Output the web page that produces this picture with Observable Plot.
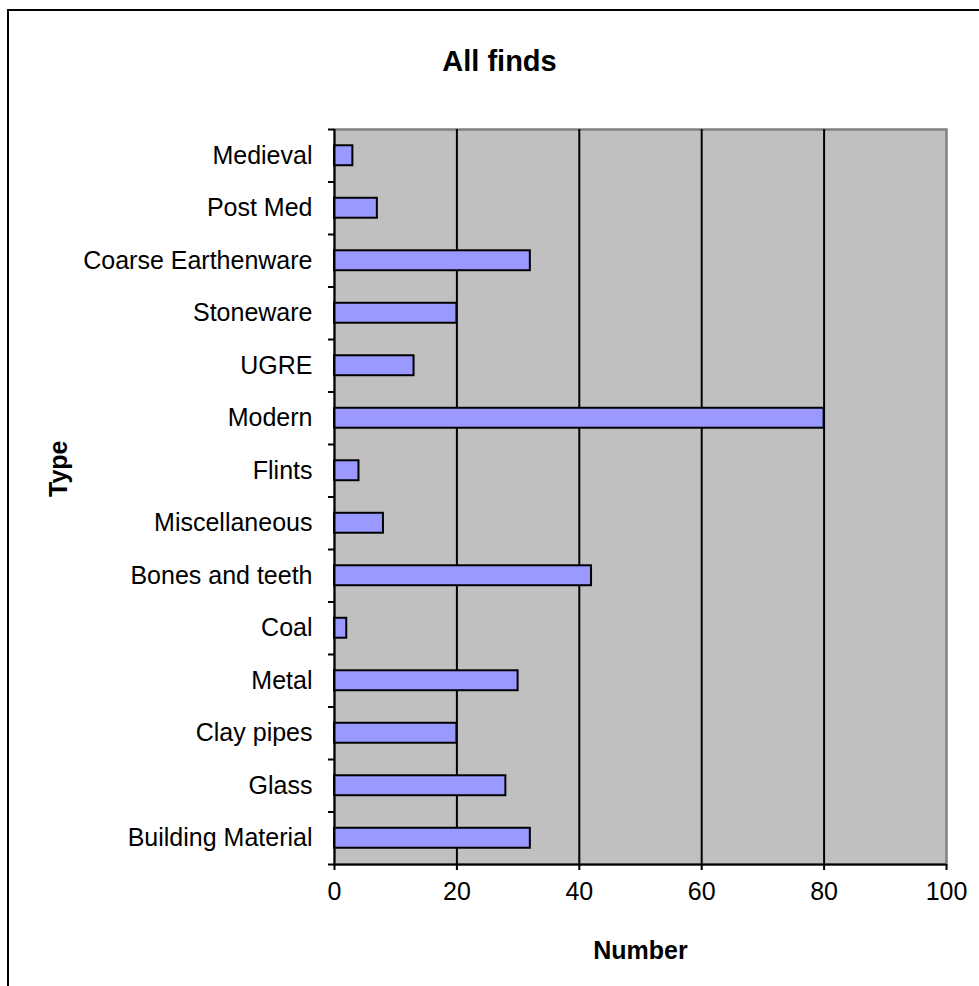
<!DOCTYPE html>
<html>
<head>
<meta charset="utf-8">
<script src="https://cdn.jsdelivr.net/npm/d3@7"></script>
<script src="https://cdn.jsdelivr.net/npm/@observablehq/plot@0.6"></script>
<style>
  html, body { margin: 0; padding: 0; background: #fff; overflow: hidden; }
  body { width: 979px; height: 986px; position: relative; font-family: "Liberation Sans", Arial, sans-serif; }
  #frame { position: absolute; left: 7px; top: 9px; width: 1100px; height: 1100px; border: 2px solid #000; box-sizing: border-box; }
  #title { position: absolute; left: 0; top: 0; width: 979px; height: 100px; box-sizing: border-box; padding-top: 44px; line-height: 34px; text-align: center; font-weight: bold; font-size: 29px; color: #000; padding-left: 20px; }
  #chart { position: absolute; left: 0; top: 100px; }
  #chart svg { overflow: visible; }
</style>
</head>
<body>
<div id="frame"></div>
<div id="title">All finds</div>
<div id="chart"></div>
<script>
// Categories, top to bottom as shown
const categories = ["Medieval", "Post Med", "Coarse Earthenware", "Stoneware", "UGRE", "Modern", "Flints", "Miscellaneous", "Bones and teeth", "Coal", "Metal", "Clay pipes", "Glass", "Building Material"];
const counts = [3, 7, 32, 20, 13, 80, 4, 8, 42, 2, 30, 20, 28, 32];
const xTicks = [0, 20, 40, 60, 80, 100];
const gridTicks = [20, 40, 60, 80];
const xLabel = "Number";
const yLabel = "Type";

const n = categories.length;
const barFraction = 0.38;
const data = categories.map((c, i) => ({type: c, value: counts[i], idx: i}));
const boundaries = d3.range(n + 1);

const chart = Plot.plot({
  width: 979,
  height: 886,
  marginTop: 29,
  marginBottom: 122,
  marginLeft: 334,
  marginRight: 33,
  style: {fontFamily: "Liberation Sans, Arial, sans-serif", fontSize: "25px", color: "#000", background: "transparent"},
  x: {domain: [0, 100]},
  y: {domain: [0, n], reverse: true},
  marks: [
    Plot.frame({fill: "#c0c0c0", stroke: "#808080", strokeWidth: 2.5}),
    Plot.gridX(gridTicks, {stroke: "#000", strokeOpacity: 1, strokeWidth: 2}),
    Plot.rectX(data, {
      x1: 0,
      x2: "value",
      y1: d => d.idx + 0.5 - barFraction / 2,
      y2: d => d.idx + 0.5 + barFraction / 2,
      fill: "#9999ff",
      stroke: "#000",
      strokeWidth: 2
    }),
    Plot.ruleX([0], {stroke: "#000", strokeWidth: 2}),
    Plot.ruleY([n], {stroke: "#000", strokeWidth: 2}),
    Plot.axisX(xTicks, {tickSize: 6, tickPadding: 12, strokeWidth: 2, fontSize: 25, label: null, tickFormat: d => String(d)}),
    Plot.axisY(boundaries, {tickSize: 6, strokeWidth: 2, tickFormat: () => "", label: null}),
    Plot.axisY(data.map(d => d.idx + 0.5), {tickSize: 0, tickPadding: 22, fontSize: 25, label: null, tickFormat: v => categories[Math.floor(v)]}),
    Plot.text([xLabel], {text: d => d, frameAnchor: "bottom", dy: 86, fontSize: 25, fontWeight: "bold", lineAnchor: "middle"}),
    Plot.text([yLabel], {text: d => d, frameAnchor: "left", dx: -276, rotate: -90, fontSize: 25, fontWeight: "bold", lineAnchor: "middle"})
  ]
});
document.getElementById("chart").appendChild(chart);
</script>
</body>
</html>
